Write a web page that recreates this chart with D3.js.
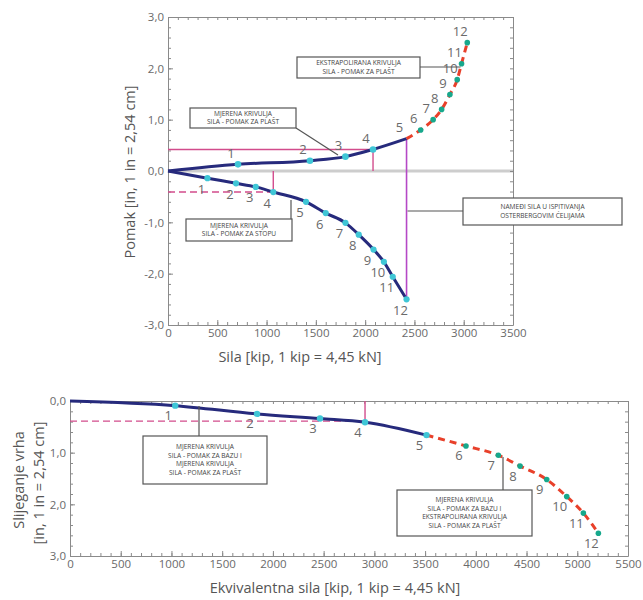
<!DOCTYPE html>
<html><head><meta charset="utf-8">
<script src="https://cdn.jsdelivr.net/npm/d3@7"></script>
<style>body{margin:0;background:#fff} text{font-family:"Open Sans","Noto Sans",sans-serif}</style>
</head><body><svg id="c" width="643" height="600"></svg>
<script>
// ---------- DATA ----------
const pointLabels = ["1","2","3","4","5","6","7","8","9","10","11","12"];
// Top chart: shaft (plašt) curve, points 1..5 measured, 5..12 extrapolated
const plastForce = [710, 1440, 1800, 2080, 2420, 2563, 2690, 2776, 2860, 2934, 2978, 3036];
const plastDisp  = [0.13, 0.20, 0.28, 0.42, 0.63, 0.80, 1.00, 1.20, 1.49, 1.78, 2.09, 2.50];
// Top chart: base (stopa) curve, measured 1..12
const stopaForce = [400, 690, 890, 1068, 1400, 1600, 1800, 1935, 2085, 2190, 2280, 2420];
const stopaDisp  = [-0.14, -0.24, -0.31, -0.41, -0.60, -0.82, -1.01, -1.24, -1.53, -1.77, -2.06, -2.50];
// Bottom chart: equivalent top load – settlement
const equivForce = [1037, 1843, 2464, 2908, 3514, 3903, 4222, 4436, 4699, 4896, 5060, 5208];
const settlement = [0.09, 0.25, 0.34, 0.41, 0.66, 0.87, 1.05, 1.26, 1.52, 1.85, 2.17, 2.56];
const measuredCount = 5;   // points 1..5 of the shaft / equivalent curves are measured
const xTicksTop = [0,500,1000,1500,2000,2500,3000,3500];
const yTicksTop = [-3,-2,-1,0,1,2,3];
const xTicksBottom = [0,500,1000,1500,2000,2500,3000,3500,4000,4500,5000,5500];
const yTicksBottom = [0,1,2,3];

// ---------- SETUP ----------
const svg = d3.select("#c");
const C = {navy:"#262a7c", cyan:"#3fc6d6", red:"#e8402a", teal:"#17a88c", pink:"#d24c8c",
           magenta:"#b548c6", frame:"#8a8a8a", text:"#6a6a6a", lead:"#555"};
const fmt = d => (d<0?"-":"") + Math.abs(d).toFixed(1).replace(".", ",");

function frame(x, y, xMinor, yMinor, xTicks, yTicks, yFmt){
  const [x0,x1] = x.range(), [ya,yb] = y.range();
  const yTop = Math.min(ya,yb), yBot = Math.max(ya,yb);
  const g = svg.append("g");
  const minorX = d3.range(x.domain()[0], x.domain()[1]+1e-9, xMinor);
  const dy = y.domain();
  const minorY = d3.range(dy[0], dy[1]+1e-9, yMinor);
  const mk = (axis, tr, vals, size) => g.append("g").attr("transform", tr)
      .call(axis.tickValues(vals).tickSize(size).tickSizeOuter(0).tickFormat(""))
      .call(s=>{s.selectAll("path").attr("stroke", C.frame); s.selectAll("line").attr("stroke", C.frame);});
  mk(d3.axisBottom(x), `translate(0,${yBot})`, minorX, -3);
  mk(d3.axisTop(x), `translate(0,${yTop})`, minorX, -3);
  mk(d3.axisLeft(y), `translate(${x0},0)`, minorY, -3);
  mk(d3.axisRight(y), `translate(${x1},0)`, minorY, -3);
  g.append("g").attr("transform", `translate(0,${yBot})`)
    .call(d3.axisBottom(x).tickValues(xTicks).tickSize(-5).tickSizeOuter(0).tickPadding(4).tickFormat(d3.format("d")))
    .call(s=>{s.select(".domain").remove(); s.selectAll("line").attr("stroke", C.frame);
      s.selectAll("text").attr("fill", C.text).attr("font-size", 11.5);});
  g.append("g").attr("transform", `translate(${x0},0)`)
    .call(d3.axisLeft(y).tickValues(yTicks).tickSize(-5).tickSizeOuter(0).tickPadding(4).tickFormat(yFmt))
    .call(s=>{s.select(".domain").remove(); s.selectAll("line").attr("stroke", C.frame);
      s.selectAll("text").attr("fill", C.text).attr("font-size", 11.5);});
}

function curve(x, y, xs, ys, color, width, dash){
  svg.append("path").datum(xs.map((v,i)=>[v, ys[i]]))
    .attr("fill","none").attr("stroke", color).attr("stroke-width", width)
    .attr("stroke-dasharray", dash || null).attr("stroke-linecap","butt")
    .attr("d", d3.line().x(d=>x(d[0])).y(d=>y(d[1])).curve(d3.curveMonotoneX));
}
function dots(x, y, xs, ys, color, r){
  svg.append("g").selectAll("circle").data(xs.map((v,i)=>[v, ys[i]])).join("circle")
    .attr("cx", d=>x(d[0])).attr("cy", d=>y(d[1])).attr("r", r).attr("fill", color);
}
function nums(x, y, xs, ys, dx, dy){
  svg.append("g").selectAll("text").data(xs.map((v,i)=>[v, ys[i], pointLabels[i]])).join("text")
    .attr("x", d=>x(d[0])+dx).attr("y", d=>y(d[1])+dy).attr("text-anchor","middle")
    .attr("dominant-baseline","middle").attr("font-size", 13).attr("fill", C.text).text(d=>d[2]);
}
function seg(x1_, y1_, x2_, y2_, color, w, dash){
  svg.append("line").attr("x1",x1_).attr("y1",y1_).attr("x2",x2_).attr("y2",y2_)
    .attr("stroke", color).attr("stroke-width", w).attr("stroke-dasharray", dash||null);
}
function box(bx, by, bw, bh, lines){
  svg.append("rect").attr("x",bx).attr("y",by).attr("width",bw).attr("height",bh)
    .attr("fill","#fff").attr("stroke","#555").attr("stroke-width",1.2);
  const lh = 8.5, start = by + bh/2 - (lines.length-1)*lh/2;
  lines.forEach((t,i)=> svg.append("text").attr("x", bx+bw/2).attr("y", start+i*lh)
    .attr("text-anchor","middle").attr("dominant-baseline","middle")
    .attr("font-size", 6.6).attr("fill","#444").text(t));
}

// ---------- TOP CHART ----------
const xA = d3.scaleLinear().domain([0,3500]).range([168,513]);
const yA = d3.scaleLinear().domain([-3,3]).range([325,17]);
seg(xA(0), yA(0), xA(3500), yA(0), "#cdcdcd", 3);
frame(xA, yA, 100, 0.2, xTicksTop, yTicksTop, fmt);

seg(xA(0), yA(plastDisp[3]), xA(plastForce[3]), yA(plastDisp[3]), C.pink, 1.4);
seg(xA(plastForce[3]), yA(plastDisp[3]), xA(plastForce[3]), yA(0), C.pink, 1.4);
seg(xA(0), yA(stopaDisp[3]), xA(stopaForce[3]), yA(stopaDisp[3]), C.pink, 1.4, "7,4");
seg(xA(stopaForce[3]), yA(0), xA(stopaForce[3]), yA(stopaDisp[3]), C.pink, 1.4);
seg(xA(plastForce[4]), yA(plastDisp[4]), xA(stopaForce[11]), yA(stopaDisp[11]), C.magenta, 1.6);

const pM = measuredCount;
curve(xA, yA, [0].concat(plastForce.slice(0,pM)), [0].concat(plastDisp.slice(0,pM)), C.navy, 3);
curve(xA, yA, plastForce.slice(pM-1), plastDisp.slice(pM-1), C.red, 3, "7,5");
curve(xA, yA, [0].concat(stopaForce), [0].concat(stopaDisp), C.navy, 3);
dots(xA, yA, plastForce.slice(0,pM-1), plastDisp.slice(0,pM-1), C.cyan, 3.3);
dots(xA, yA, plastForce.slice(pM), plastDisp.slice(pM), C.teal, 2.8);
dots(xA, yA, stopaForce, stopaDisp, C.cyan, 3.1);
nums(xA, yA, plastForce, plastDisp, -7, -10);
nums(xA, yA, stopaForce, stopaDisp, -6, 12);

box(297, 57, 123, 21, ["EKSTRAPOLIRANA KRIVULJA","SILA - POMAK ZA PLAŠT"]);
seg(420, 67, xA(plastForce[10])-1, 67, C.lead, 1.2);
box(190, 108, 106, 20, ["MJERENA KRIVULJA","SILA - POMAK ZA PLAŠT"]);
seg(296, 128, 338, 155, C.lead, 1.2);
box(186, 219, 106, 22, ["MJERENA KRIVULJA","SILA - POMAK ZA STOPU"]);
seg(291, 200, 291, 219, C.lead, 1.2);
box(463, 198, 159, 27, ["NAMEĐI SILA U ISPITIVANJA","OSTERBERGOVIM ĆELIJAMA"]);
seg(xA(stopaForce[11])+1, 211, 463, 211, C.lead, 1.2);

svg.append("text").attr("x", 300).attr("y", 362).attr("text-anchor","middle")
  .attr("font-size", 14.5).attr("fill", "#555").text("Sila [kip, 1 kip = 4,45 kN]");
svg.append("text").attr("transform","translate(135,172) rotate(-90)").attr("text-anchor","middle")
  .attr("font-size", 14.5).attr("fill", "#555").text("Pomak [in, 1 in = 2,54 cm]");

// ---------- BOTTOM CHART ----------
const xB = d3.scaleLinear().domain([0,5500]).range([70,628]);
const yB = d3.scaleLinear().domain([0,3]).range([401,556]);
frame(xB, yB, 100, 0.2, xTicksBottom, yTicksBottom, fmt);
seg(xB(0), yB(0.39), xB(equivForce[3]), yB(0.39), C.pink, 1.4, "7,4");
seg(xB(equivForce[3]), yB(0), xB(equivForce[3]), yB(settlement[3]), C.pink, 1.4);
curve(xB, yB, [0].concat(equivForce.slice(0,pM)), [0].concat(settlement.slice(0,pM)), C.navy, 3);
curve(xB, yB, equivForce.slice(pM-1), settlement.slice(pM-1), C.red, 3, "7,5");
dots(xB, yB, equivForce.slice(0,pM), settlement.slice(0,pM), C.cyan, 3.2);
dots(xB, yB, equivForce.slice(pM), settlement.slice(pM), C.teal, 2.8);
nums(xB, yB, equivForce, settlement, -7, 11);

box(143, 436, 124, 48, ["MJERENA KRIVULJA","SILA - POMAK ZA BAZU I","MJERENA KRIVULJA","SILA - POMAK ZA PLAŠT"]);
seg(199, 406, 199, 436, C.lead, 1.2);
box(397, 490, 135, 46, ["MJERENA KRIVULJA","SILA - POMAK ZA BAZU I","EKSTRAPOLIRANA KRIVULJA","SILA - POMAK ZA PLAŠT"]);
seg(503, 457, 503, 490, C.lead, 1.2);

svg.append("text").attr("x", 335).attr("y", 593).attr("text-anchor","middle")
  .attr("font-size", 14.5).attr("fill", "#555").text("Ekvivalentna sila [kip, 1 kip = 4,45 kN]");
svg.append("text").attr("transform","translate(24,480) rotate(-90)").attr("text-anchor","middle")
  .attr("font-size", 14.5).attr("fill", "#555").text("Slijeganje vrha");
svg.append("text").attr("transform","translate(44,483) rotate(-90)").attr("text-anchor","middle")
  .attr("font-size", 14.5).attr("fill", "#555").text("[in, 1 in = 2,54 cm]");
</script></body></html>
